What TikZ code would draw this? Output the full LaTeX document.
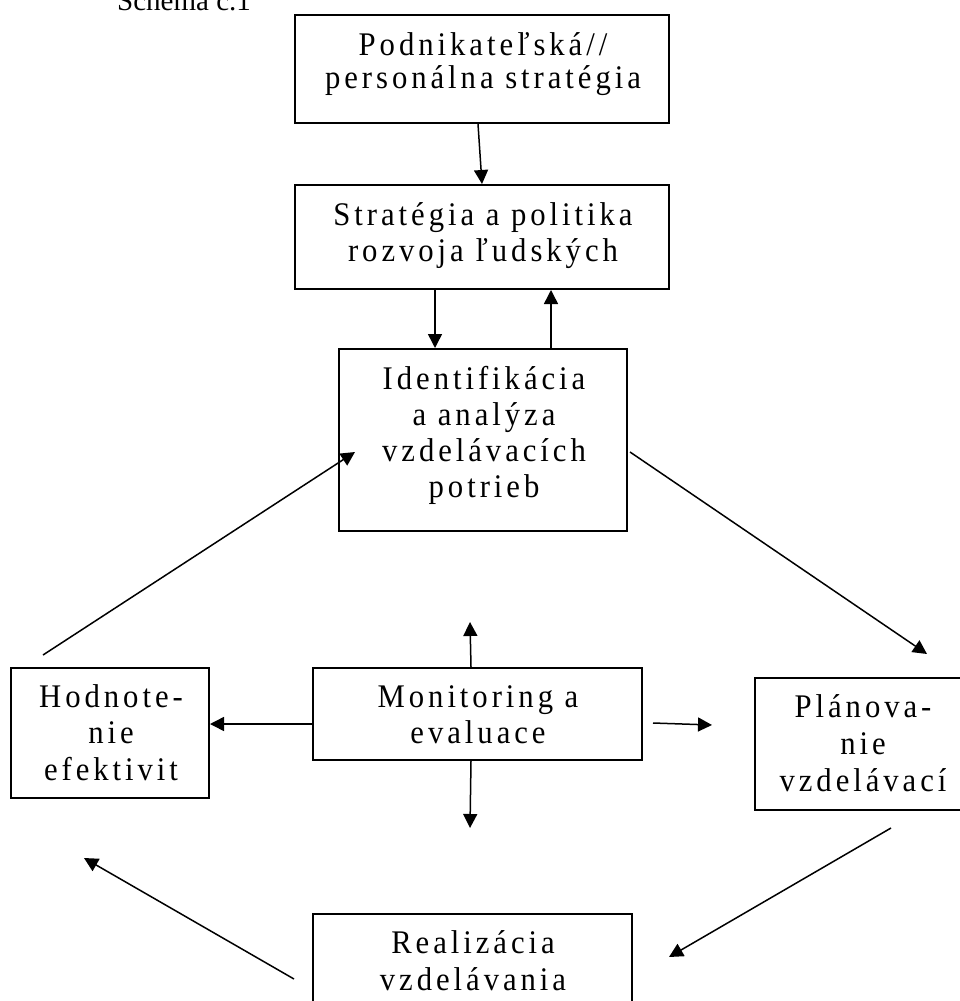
\documentclass[tikz,border=0pt]{standalone}
\usepackage{fontspec}
\setmainfont{Liberation Serif}
\newfontfamily\spaced[LetterSpace=12,FakeStretch=0.93]{Liberation Serif}
\usetikzlibrary{arrows.meta,calc}
\begin{document}
\begin{tikzpicture}[x=1pt,y=-1pt,
  box/.style={draw, line width=2pt, rectangle, anchor=north west, inner sep=0pt},
  ln/.style={anchor=base, inner sep=0pt, font=\spaced\fontsize{33}{36}\selectfont},
  arr/.style={line width=1.5pt, -{Triangle[length=14pt,width=14pt]}}]
\useasboundingbox (0,0) rectangle (960,1001);

\node[anchor=base west, inner sep=0pt, font=\fontsize{29}{30}\selectfont] (sch) at (117,10) {Schema c.1};

% boxes
\node[box, minimum width=374pt, minimum height=108pt] (b1) at (294,14) {};
\node[ln] (b1a) at (483,55) {Podnikateľská//};
\node[ln] (b1b) at (483,88) {personálna stratégia};

\node[box, minimum width=374pt, minimum height=104pt] (b2) at (294,184) {};
\node[ln] (b2a) at (483,225) {Stratégia a politika};
\node[ln] (b2b) at (483,261) {rozvoja ľudských};

\node[box, minimum width=288pt, minimum height=182pt] (b3) at (338,348) {};
\node[ln] (b3a) at (484,389) {Identifikácia};
\node[ln] (b3b) at (484,425) {a analýza};
\node[ln] (b3c) at (484,461) {vzdelávacích};
\node[ln] (b3d) at (484,497) {potrieb};

\node[box, minimum width=198pt, minimum height=130pt] (hod) at (10,667) {};
\node[ln] (hoda) at (111,707) {Hodnote-};
\node[ln] (hodb) at (111,743) {nie};
\node[ln] (hodc) at (111,780) {efektivit};

\node[box, minimum width=329pt, minimum height=92pt] (mon) at (312,667) {};
\node[ln] (mona) at (478,707) {Monitoring a};
\node[ln] (monb) at (478,743) {evaluace};

\node[box, minimum width=214pt, minimum height=132pt] (pla) at (754,677) {};
\node[ln] (plaa) at (863,717) {Plánova-};
\node[ln] (plab) at (863,754) {nie};
\node[ln] (plac) at (863,791) {vzdelávací};

\node[box, minimum width=319pt, minimum height=130pt] (rea) at (312,913) {};
\node[ln] (reaa) at (473,953) {Realizácia};
\node[ln] (reab) at (473,990) {vzdelávania};

% free ends
\coordinate (mu) at (470,622);
\coordinate (md) at (470,828);
\coordinate (f1) at (653,723);
\coordinate (f2) at (712,725);
\coordinate (c1) at (630,452);
\coordinate (c2) at (927,654);
\coordinate (c3) at (891,828);
\coordinate (c4) at (669,957);
\coordinate (c5) at (294,979);
\coordinate (c6) at (84,858);
\coordinate (c7) at (43,655);
\coordinate (c8) at (355,452);

% connectors
\draw[arr] ($(b1.south)+(-4,0)$) -- (b2.north);
\draw[arr] ($(b2.south)+(-47,0)$) -- ($(b3.north)+(-48,0)$);
\draw[arr] ($(b3.north)+(68,0)$) -- ($(b2.south)+(69,0)$);
\draw[arr] ($(mon.north)+(-6.5,0)$) -- (mu);
\draw[arr] ($(mon.south)+(-6.5,0)$) -- (md);
\draw[arr] ($(mon.west)+(0,10)$) -- ($(hod.east)+(0,-9)$);
\draw[arr] (f1) -- (f2);
\draw[arr] (c1) -- (c2);
\draw[arr] (c3) -- (c4);
\draw[arr] (c5) -- (c6);
\draw[arr] (c7) -- (c8);
\end{tikzpicture}
\end{document}
